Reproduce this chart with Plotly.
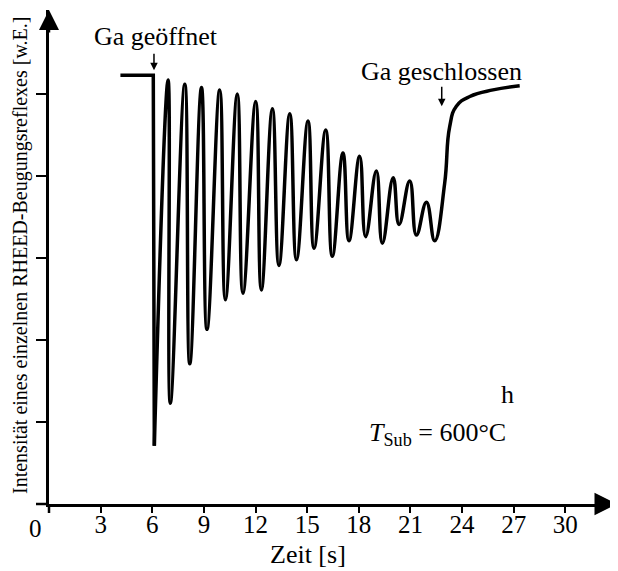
import plotly.graph_objects as go

# ---- data ----
flat_t = [4.15, 6.06, 6.12]
flat_v = [5.23, 5.23, 0.71]

osc_t = [6.12, 6.92, 7.05, 7.89, 8.18, 8.86, 9.18, 9.92, 10.25, 10.94, 11.27,
         12.01, 12.34, 12.98, 13.36, 13.99, 14.38, 15.05, 15.40, 16.08, 16.46,
         17.08, 17.43, 18.05, 18.40, 19.02, 19.37, 20.00, 20.34, 20.96, 21.35,
         21.93, 22.41, 22.99, 23.28, 23.67, 24.45, 25.80, 27.35]
osc_v = [0.71, 5.17, 1.23, 5.12, 1.71, 5.08, 2.13, 5.05, 2.49, 5.00, 2.57,
         4.91, 2.61, 4.82, 2.91, 4.76, 2.98, 4.67, 3.12, 4.56, 3.02,
         4.28, 3.21, 4.24, 3.26, 4.06, 3.18, 3.98, 3.41, 3.94, 3.28,
         3.68, 3.21, 3.91, 4.60, 4.85, 4.97, 5.05, 5.10]

x_ticks = [3, 6, 9, 12, 15, 18, 21, 24, 27, 30]
y_ticks = [1, 2, 3, 4, 5]

FONT = "Liberation Serif, Times New Roman, serif"
# page body has an 8px margin, so the figure is shifted by 8px
W, H = 610, 563
ML, MR, MT, MB = 41, 0, 2, 67
PW, PH = W - ML - MR, H - MT - MB


def f(size):
    return dict(family=FONT, size=size, color="black")


fig = go.Figure()
fig.add_trace(go.Scatter(x=flat_t, y=flat_v, mode="lines",
                         line=dict(color="black", width=3.5), showlegend=False))
fig.add_trace(go.Scatter(x=osc_t, y=osc_v, mode="lines",
                         line=dict(color="black", width=3.5, shape="spline", smoothing=1.3),
                         showlegend=False))

fig.update_layout(
    width=W, height=H, autosize=False,
    margin=dict(l=ML, r=MR, t=MT, b=MB),
    paper_bgcolor="white", plot_bgcolor="white",
    font=f(20),
    xaxis=dict(range=[0, PW / 17.21], tickvals=x_ticks, ticktext=[str(v) for v in x_ticks],
               ticks="outside", ticklen=6, tickwidth=1.5, tickcolor="black",
               ticklabelstandoff=-10,
               showline=True, linewidth=2.5, linecolor="black", showgrid=False,
               zeroline=False, tickfont=f(25)),
    yaxis=dict(range=[0, PH / 82.0], tickvals=y_ticks, showticklabels=False,
               ticks="outside", ticklen=10, tickwidth=2, tickcolor="black",
               showline=True, linewidth=2.5, linecolor="black", showgrid=False,
               zeroline=False),
)

# axis overhangs
fig.add_shape(type="line", xref="paper", yref="paper", x0=-13 / PW, x1=0, y0=0, y1=0,
              line=dict(color="black", width=2.5))
fig.add_shape(type="line", xref="paper", yref="paper", x0=0, x1=0, y0=0, y1=-9 / PH,
              line=dict(color="black", width=2.5))

annos = []
# axis arrows
annos.append(dict(xref="paper", yref="paper", x=1.0, y=0, ax=-24, ay=0, text="",
                  showarrow=True, arrowhead=2, arrowsize=1.8, arrowwidth=2.5, arrowcolor="black"))
annos.append(dict(xref="paper", yref="paper", x=0, y=1.0, ax=0, ay=24, text="",
                  showarrow=True, arrowhead=2, arrowsize=1.6, arrowwidth=2.5, arrowcolor="black"))
# origin label
annos.append(dict(xref="paper", yref="paper", x=-14 / PW, y=0, yshift=-9, text="0",
                  showarrow=False, xanchor="center", yanchor="top", font=f(25)))
# axis titles
annos.append(dict(xref="paper", yref="paper", x=(308 - 49) / PW, y=(504 - 554) / PH,
                  text="Zeit [s]", showarrow=False, xanchor="center", yanchor="middle",
                  font=f(26)))
annos.append(dict(xref="paper", yref="paper", x=(20 - 49) / PW, y=(504 - 256) / PH,
                  text="Intensität eines einzelnen RHEED-Beugungsreflexes [w.E.]",
                  textangle=-90, showarrow=False, xanchor="center", yanchor="middle",
                  font=f(20)))
# labels with arrows
annos.append(dict(x=6.19, y=5.70, text="Ga geöffnet", showarrow=False,
                  xanchor="center", yanchor="middle", font=f(26)))
annos.append(dict(x=6.1, y=5.29, ax=0, ay=-18, text="", showarrow=True, arrowhead=2,
                  arrowsize=1, arrowwidth=1.5, arrowcolor="black"))
annos.append(dict(x=22.78, y=5.28, text="Ga geschlossen", showarrow=False,
                  xanchor="center", yanchor="middle", font=f(26)))
annos.append(dict(x=22.82, y=4.85, ax=0, ay=-21, text="", showarrow=True, arrowhead=2,
                  arrowsize=1, arrowwidth=1.5, arrowcolor="black"))
annos.append(dict(x=26.67, y=1.33, text="h", showarrow=False,
                  xanchor="center", yanchor="middle", font=f(26)))
annos.append(dict(x=22.55, y=0.85, text="<i>T</i><sub>Sub</sub> = 600°C", showarrow=False,
                  xanchor="center", yanchor="middle", font=f(26)))
fig.update_layout(annotations=annos)

fig.write_html("out.html")
